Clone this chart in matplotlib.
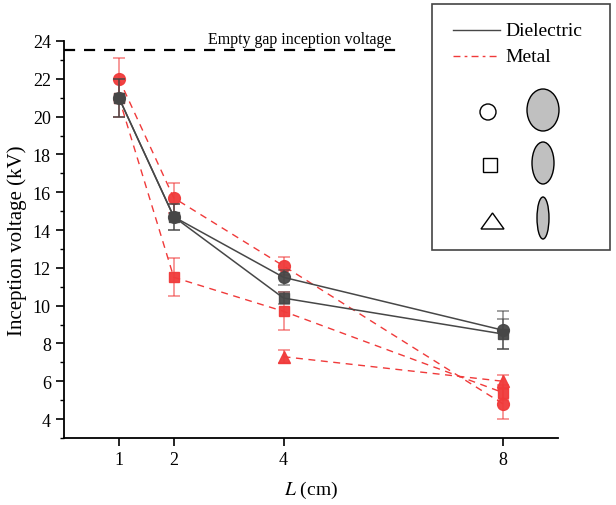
import numpy as np
import matplotlib.pyplot as plt
from matplotlib.patches import Ellipse, Rectangle, Polygon, Circle

plt.rcParams['font.family'] = ['Liberation Serif']
plt.rcParams['mathtext.fontset'] = 'stix'

# gap length (cm)
L = [1, 2, 4, 8]
L_tri = [4, 8]

# dielectric electrode
die_circ = [21.0, 14.7, 11.5, 8.7]
die_circ_err = [1.0, 0.7, 0.4, 1.0]
die_sq = [21.0, 14.7, 10.4, 8.5]
die_sq_err = [1.0, 0.7, 0.3, 0.8]

# metal electrode
met_circ = [22.0, 15.7, 12.1, 4.8]
met_circ_err = [1.1, 0.8, 0.5, 0.8]
met_sq = [21.0, 11.5, 9.7, 5.4]
met_sq_err = [1.0, 1.0, 1.0, 0.4]
met_tri = [7.3, 6.0]
met_tri_err = [0.35, 0.35]

empty_gap = 23.5

dark = '#474747'
red = '#f03a3a'

fig = plt.figure(figsize=(6.16, 5.06), dpi=100)
ax = fig.add_axes([64/616, 1-439/506, (558-64)/616, (439-42)/506])

def series(x, y, e, mk, col, ls, lw, ms):
    ax.errorbar(x, y, yerr=e, fmt='none', ecolor=col, alpha=0.6, capsize=4, elinewidth=1.2, capthick=1.2)
    ax.plot(x, y, ls=ls, color=col, lw=lw)
    ax.plot(x, y, ls='none', marker=mk, ms=ms, color=col, alpha=0.95)

series(L, met_sq, met_sq_err, 's', red, (0, (5, 4)), 1.0, 7)
series(L_tri, met_tri, met_tri_err, '^', red, (0, (5, 4)), 1.0, 8)
series(L, met_circ, met_circ_err, 'o', red, (0, (5, 4)), 1.0, 8.5)
series(L, die_sq, die_sq_err, 's', dark, '-', 1.1, 7)
series(L, die_circ, die_circ_err, 'o', dark, '-', 1.1, 8.5)

ax.plot([0, 6.05], [empty_gap, empty_gap], color='black', ls=(0, (5, 4)), lw=1.6)
ax.text(4.3, empty_gap + 0.2, 'Empty gap inception voltage', ha='center', va='bottom', fontsize=11.5)

ax.set_xlim(0, 9)
ax.set_ylim(3, 24)
ax.set_xticks(L)
ax.set_yticks(np.arange(4, 25, 2))
ax.set_yticks(np.arange(3, 24.5, 1), minor=True)
ax.tick_params(labelsize=13, direction='out', length=6, width=1.2)
ax.tick_params(axis='y', which='minor', length=3, width=1)
ax.spines['top'].set_visible(False)
ax.spines['right'].set_visible(False)
ax.spines['left'].set_linewidth(1.3)
ax.spines['bottom'].set_linewidth(1.3)
ax.set_xlabel('$L$ (cm)', fontsize=14, labelpad=8)
ax.set_ylabel('Inception voltage (kV)', fontsize=15)

# legend / shape key box, pixel coords
lg = fig.add_axes([0, 0, 1, 1], facecolor='none')
lg.set_xlim(0, 616)
lg.set_ylim(506, 0)
lg.axis('off')
lg.add_patch(Rectangle((432, 5), 178, 246, fill=False, ec='#444444', lw=1.2))
lg.plot([453, 500], [31, 31], color=dark, lw=1.0)
lg.plot([453, 500], [57, 57], color=red, lw=1.0, ls=(0, (5, 3, 2, 3)))
lg.text(505, 31, 'Dielectric', fontsize=14, va='center')
lg.text(505, 57, 'Metal', fontsize=14, va='center')
lg.add_patch(Circle((488, 113), 8, fill=False, ec='black', lw=1))
lg.add_patch(Rectangle((483, 159), 14, 14, fill=False, ec='black', lw=1))
lg.add_patch(Polygon([[481, 230], [504, 230], [492.5, 214]], closed=True, fill=False, ec='black', lw=1))
lg.add_patch(Ellipse((543, 111), 32, 42, fc='#c0c0c0', ec='black', lw=1))
lg.add_patch(Ellipse((543, 164), 22, 42, fc='#c0c0c0', ec='black', lw=1))
lg.add_patch(Ellipse((543, 219), 12, 42, fc='#c0c0c0', ec='black', lw=1))

fig.savefig('out.png', dpi=100)
